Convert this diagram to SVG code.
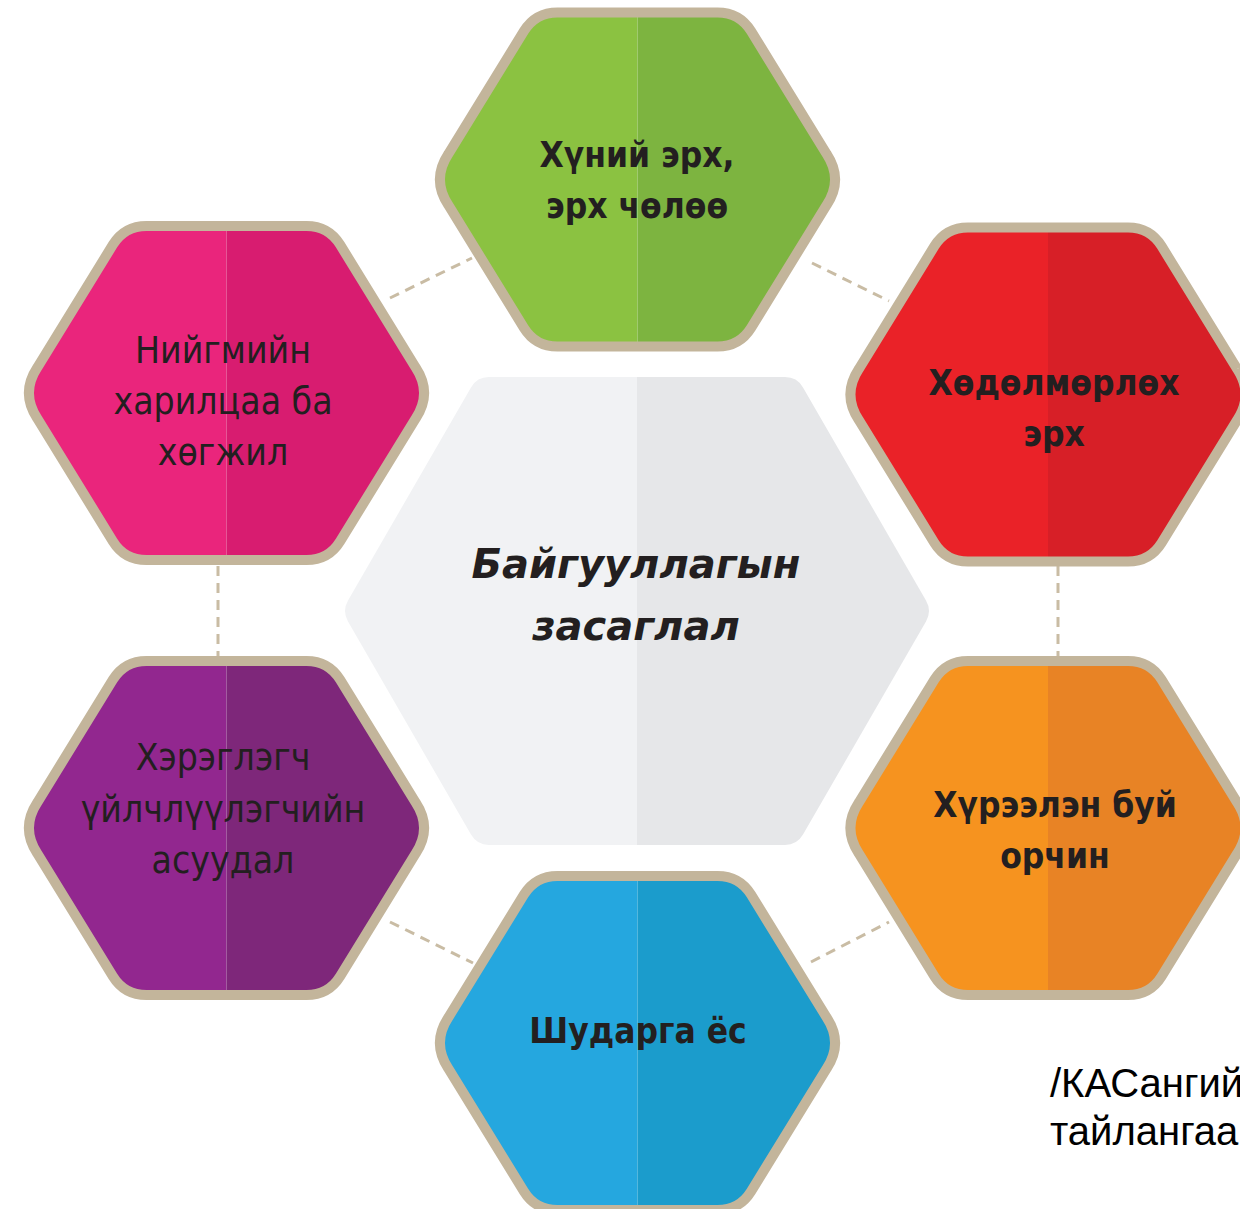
<svg xmlns="http://www.w3.org/2000/svg" xmlns:xlink="http://www.w3.org/1999/xlink" width="1240" height="1209" viewBox="0 0 1240 1209">
<style>
.border{fill:none;stroke:#c3b59b;stroke-width:10}
.lbl{font-family:"DejaVu Sans Condensed","DejaVu Sans",sans-serif;font-size:37px;fill:#231f20;text-anchor:middle}
.b{font-weight:bold;font-size:35px}
.ctr{font-family:"DejaVu Sans","Liberation Sans",sans-serif;font-size:40px;font-weight:bold;font-style:italic;fill:#231f20;text-anchor:middle}
.conn{fill:none;stroke:#c9bca4;stroke-width:3;stroke-dasharray:10 7}
.src{font-family:"Liberation Sans",Arial,sans-serif;font-size:40px;fill:#000}
</style>
<defs>
<path id="hex" d="M-80,-167 L80,-167 Q102,-167 113.6,-148.3 L189.2,-25.5 Q206,0 189.2,25.5 L113.6,148.3 Q102,167 80,167 L-80,167 Q-102,167 -113.6,148.3 L-189.2,25.5 Q-206,0 -189.2,-25.5 L-113.6,-148.3 Q-102,-167 -80,-167 Z"/>
<clipPath id="hc"><use xlink:href="#hex"/></clipPath>
<path id="chex" d="M-148,-234 L148,-234 Q160,-234 166,-223.6 L289,-10.4 Q295,0 289,10.4 L166,223.6 Q160,234 148,234 L-148,234 Q-160,234 -166,223.6 L-289,10.4 Q-295,0 -289,-10.4 L-166,-223.6 Q-160,-234 -148,-234 Z"/>
<clipPath id="cc"><use xlink:href="#chex"/></clipPath>
</defs>
<rect width="1240" height="1209" fill="#ffffff"/>

<g id="connectors">
<line class="conn" x1="390" y1="298" x2="472" y2="258"/>
<line class="conn" x1="812" y1="263" x2="889" y2="301"/>
<line class="conn" x1="218" y1="566" x2="218" y2="656"/>
<line class="conn" x1="1058" y1="566" x2="1058" y2="656"/>
<line class="conn" x1="390" y1="922" x2="473" y2="963"/>
<line class="conn" x1="811" y1="962" x2="889" y2="922"/>
</g>

<g id="center">
<g transform="translate(637,611)" clip-path="url(#cc)">
<rect x="-300" y="-240" width="300" height="480" fill="#f1f2f4"/>
<rect x="0" y="-240" width="300" height="480" fill="#e6e7e9"/>
</g>
<text class="ctr" x="636" y="578">Байгууллагын</text>
<text class="ctr" x="636" y="640">засаглал</text>
</g>

<g id="n-green">
<g transform="translate(637.5,179.5)">
<g clip-path="url(#hc)"><rect x="-210" y="-175" width="210" height="350" fill="#8bc241"/><rect x="0" y="-175" width="210" height="350" fill="#7db440"/></g>
<use xlink:href="#hex" class="border"/>
</g>
<text class="lbl b" x="637" y="167">Хүний эрх,</text>
<text class="lbl b" x="637" y="218">эрх чөлөө</text>
</g>

<g id="n-pink">
<g transform="translate(226.5,393)">
<g clip-path="url(#hc)"><rect x="-210" y="-175" width="210" height="350" fill="#ea257c"/><rect x="0" y="-175" width="210" height="350" fill="#d81c70"/></g>
<use xlink:href="#hex" class="border"/>
</g>
<text class="lbl" x="223" y="363">Нийгмийн</text>
<text class="lbl" x="223" y="414">харилцаа ба</text>
<text class="lbl" x="223" y="465">хөгжил</text>
</g>

<g id="n-red">
<g transform="translate(1048,394.5)">
<g clip-path="url(#hc)"><rect x="-210" y="-175" width="210" height="350" fill="#ea2228"/><rect x="0" y="-175" width="210" height="350" fill="#d71f27"/></g>
<use xlink:href="#hex" class="border"/>
</g>
<text class="lbl b" x="1054" y="395">Хөдөлмөрлөх</text>
<text class="lbl b" x="1054" y="446">эрх</text>
</g>

<g id="n-purple">
<g transform="translate(226.5,828)">
<g clip-path="url(#hc)"><rect x="-210" y="-175" width="210" height="350" fill="#92278f"/><rect x="0" y="-175" width="210" height="350" fill="#7e277a"/></g>
<use xlink:href="#hex" class="border"/>
</g>
<text class="lbl" x="223" y="770">Хэрэглэгч</text>
<text class="lbl" x="223" y="822">үйлчлүүлэгчийн</text>
<text class="lbl" x="223" y="873">асуудал</text>
</g>

<g id="n-orange">
<g transform="translate(1048,828)">
<g clip-path="url(#hc)"><rect x="-210" y="-175" width="210" height="350" fill="#f6931f"/><rect x="0" y="-175" width="210" height="350" fill="#e88325"/></g>
<use xlink:href="#hex" class="border"/>
</g>
<text class="lbl b" x="1055" y="817">Хүрээлэн буй</text>
<text class="lbl b" x="1055" y="868">орчин</text>
</g>

<g id="n-blue">
<g transform="translate(637.5,1043)">
<g clip-path="url(#hc)"><rect x="-210" y="-175" width="210" height="350" fill="#25a7df"/><rect x="0" y="-175" width="210" height="350" fill="#1b9ccc"/></g>
<use xlink:href="#hex" class="border"/>
</g>
<text class="lbl b" x="638" y="1043">Шударга ёс</text>
</g>

<g id="source">
<text class="src" x="1050" y="1097">/КАСангий</text>
<text class="src" x="1050" y="1145">тайлангаа</text>
</g>
</svg>
